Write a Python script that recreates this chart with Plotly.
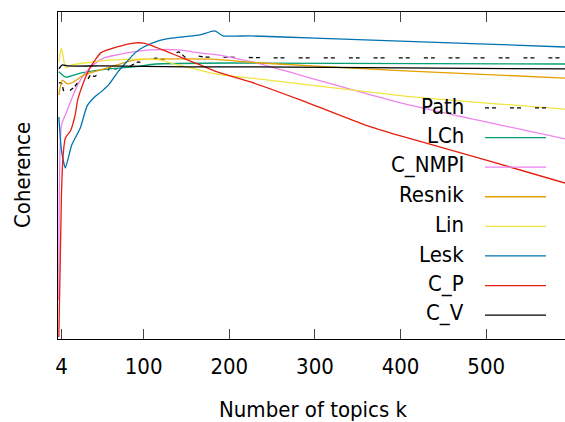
import plotly.graph_objects as go

# ---------------- data (coherence, arbitrary normalised units) ----------------
k_path = [1, 4, 8.6, 14.5, 19, 23, 27, 30, 34, 38, 43, 50, 55, 61, 68, 76, 84, 93, 100, 108, 114, 122, 130, 141, 150, 160, 172, 192, 250, 350, 450, 592]
path = [0.783, 0.783, 0.740, 0.761, 0.770, 0.783, 0.785, 0.798, 0.792, 0.807, 0.803, 0.817, 0.813, 0.829, 0.826, 0.838, 0.834, 0.847, 0.845, 0.853, 0.859, 0.855, 0.859, 0.878, 0.859, 0.866, 0.862, 0.862, 0.860, 0.860, 0.860, 0.860]

k_lch = [1, 9, 26, 50, 88, 114, 200, 592]
lch = [0.817, 0.801, 0.813, 0.823, 0.832, 0.841, 0.844, 0.841]

k_nmpi = [1, 4, 10, 14.5, 23, 30, 41, 53, 69, 88, 108, 140, 166, 186, 217, 236, 405, 592]
nmpi = [0.119, 0.654, 0.694, 0.725, 0.777, 0.807, 0.838, 0.859, 0.869, 0.878, 0.884, 0.884, 0.875, 0.869, 0.853, 0.841, 0.719, 0.612]

k_resnik = [1, 5, 11, 18, 30, 50, 69, 88, 108, 180, 236, 405, 592]
resnik = [0.746, 0.792, 0.780, 0.786, 0.807, 0.823, 0.838, 0.853, 0.856, 0.856, 0.844, 0.820, 0.798]

k_lin = [1, 4, 9, 16, 30, 60, 100, 120, 140, 155, 180, 193, 225, 405, 592]
lin = [0.847, 0.890, 0.829, 0.838, 0.844, 0.853, 0.856, 0.853, 0.838, 0.829, 0.813, 0.807, 0.798, 0.743, 0.703]

k_lesk = [1, 4, 8.6, 16, 26, 34, 44, 50, 60, 70, 80, 90, 100, 110, 125, 146, 166, 183, 193, 225, 300, 400, 500, 592]
lesk = [0.679, 0.578, 0.523, 0.593, 0.645, 0.713, 0.743, 0.755, 0.780, 0.817, 0.847, 0.875, 0.893, 0.905, 0.917, 0.924, 0.930, 0.942, 0.927, 0.927, 0.920, 0.911, 0.902, 0.893]

k_cp = [1, 4, 6, 8.6, 14.5, 20, 23, 30, 38, 50, 69, 88, 100, 108, 128, 146, 166, 186, 225, 283, 359, 400, 500, 592]
cp = [0.006, 0.440, 0.563, 0.615, 0.636, 0.685, 0.731, 0.786, 0.832, 0.875, 0.893, 0.905, 0.905, 0.899, 0.878, 0.859, 0.838, 0.817, 0.786, 0.731, 0.654, 0.621, 0.547, 0.477]

k_cv = [1, 5, 11, 50, 150, 230, 592]
cv = [0.826, 0.838, 0.835, 0.835, 0.832, 0.832, 0.826]

names = ["Path", "LCh", "C_NMPI", "Resnik", "Lin", "Lesk", "C_P", "C_V"]
xs = [k_path, k_lch, k_nmpi, k_resnik, k_lin, k_lesk, k_cp, k_cv]
ys = [path, lch, nmpi, resnik, lin, lesk, cp, cv]
colors = ["black", "#009e73", "#ee82ee", "#e69f00", "#f0e442", "#0072b2", "#e51e10", "black"]
dashes = ["4px,3px,4px,14px", "solid", "solid", "solid", "solid", "solid", "solid", "solid"]

x_ticks = [4, 100, 200, 300, 400, 500]
x_range = [0, 592]

# ---------------- layout geometry (pixels) ----------------
W, H = 565, 422
L, R, T, B = 58, 0, 12, 83
pw, ph = W - L - R, H - T - B
FONT = "DejaVu Sans Condensed, DejaVu Sans"
FS = 22


def px_x(px):
    return (px - L) / pw


def px_y(py):
    return (H - B - py) / ph


fig = go.Figure()
for x, y, n, c, d in zip(xs, ys, names, colors, dashes):
    fig.add_trace(go.Scatter(x=x, y=y, name=n, mode="lines",
                             line=dict(color=c, width=1.3, dash=d, shape="spline", smoothing=0.5),
                             showlegend=False, hoverinfo="skip"))

# gnuplot-style key: right-aligned labels, sample lines to the right
row0, step = 106, 29.6
for i, (n, c, d) in enumerate(zip(names, colors, dashes)):
    yy = px_y(row0 + i * step)
    fig.add_annotation(x=px_x(466), y=yy, xref="paper", yref="paper", text=n,
                       showarrow=False, xanchor="right", yanchor="middle",
                       font=dict(family=FONT, size=FS, color="black"))
    fig.add_shape(type="line", xref="paper", yref="paper",
                  x0=px_x(485), x1=px_x(546), y0=yy - 0.006, y1=yy - 0.006,
                  line=dict(color=c, width=1.3, dash=d))

fig.add_annotation(x=px_x(313), y=px_y(409), xref="paper", yref="paper",
                   text="Number of topics k", showarrow=False,
                   xanchor="center", yanchor="middle",
                   font=dict(family=FONT, size=FS, color="black"))
fig.add_annotation(x=px_x(22), y=px_y(175), xref="paper", yref="paper",
                   text="Coherence", showarrow=False, textangle=-90,
                   xanchor="center", yanchor="middle",
                   font=dict(family=FONT, size=FS, color="black"))

fig.update_layout(
    width=W, height=H,
    margin=dict(l=L, r=R, t=T, b=B, pad=0),
    paper_bgcolor="white", plot_bgcolor="white",
    font=dict(family=FONT, size=FS, color="black"),
    xaxis=dict(range=x_range, tickvals=x_ticks, ticktext=[str(v) for v in x_ticks],
               ticks="inside", ticklen=10, tickwidth=1, tickcolor="#444",
               showline=True, linecolor="black", linewidth=1, mirror="ticks",
               showgrid=False, zeroline=False, ticklabelstandoff=8,
               tickfont=dict(family=FONT, size=FS, color="black")),
    yaxis=dict(range=[0, 1], showticklabels=False, ticks="",
               showline=True, linecolor="black", linewidth=1, mirror=False,
               showgrid=False, zeroline=False),
)

fig.write_html("out.html")
